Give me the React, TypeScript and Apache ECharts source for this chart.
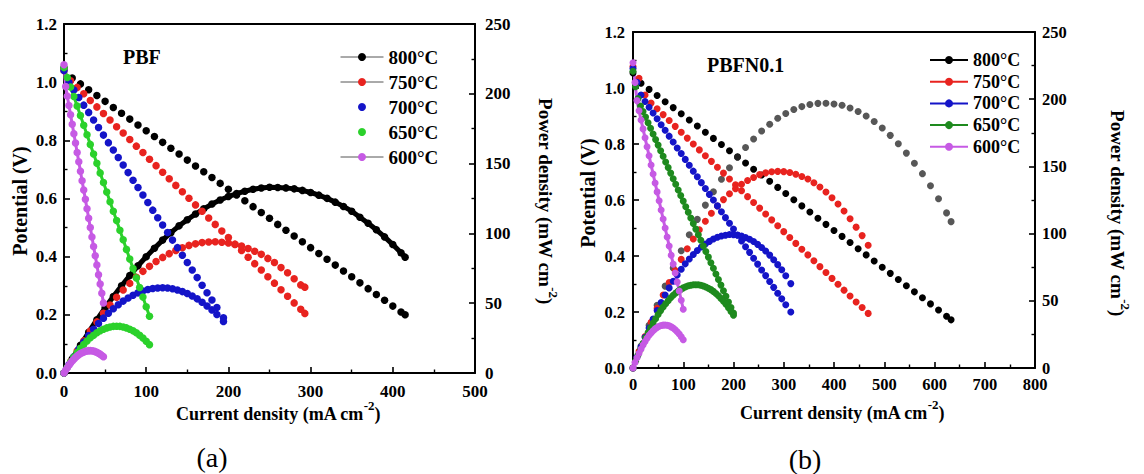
import React, { useEffect, useRef } from "react";
import * as echarts from "echarts";

// ---------- Panel (a) PBF ----------
const A800_I = [0,10,20,30,40,50,60,70,80,90,100,110,120,130,140,150,160,170,180,190,200,210,220,230,240,250,260,270,280,290,300,310,320,330,340,350,360,370,380,390,400,410,415];
const A800_V = [1.05,1.014,0.994,0.974,0.954,0.934,0.913,0.893,0.873,0.853,0.833,0.813,0.793,0.773,0.753,0.732,0.712,0.692,0.672,0.652,0.632,0.612,0.592,0.572,0.552,0.532,0.511,0.491,0.471,0.451,0.431,0.411,0.391,0.371,0.351,0.331,0.310,0.290,0.270,0.250,0.230,0.210,0.200];
const A800_P = [0,10.1,19.9,29.2,38.2,46.7,54.8,62.5,69.8,76.8,83.3,89.4,95.2,100.5,105.4,109.8,113.9,117.6,121.0,123.9,126.4,128.5,130.2,131.6,132.5,133.0,132.9,132.6,131.9,130.8,129.3,127.4,125.1,122.4,119.3,115.9,111.6,107.3,102.6,97.5,92.0,86.1,83.0];

const A750_I = [0,8,16,24,32,40,48,56,64,72,80,88,96,104,112,120,128,136,144,152,160,168,176,184,192,200,208,216,224,232,240,248,256,264,272,280,288,293];
const A750_V = [1.04,1.005,0.982,0.960,0.937,0.915,0.892,0.870,0.847,0.825,0.803,0.780,0.758,0.735,0.713,0.690,0.668,0.645,0.623,0.601,0.578,0.556,0.533,0.511,0.488,0.466,0.443,0.421,0.398,0.376,0.354,0.331,0.309,0.286,0.264,0.241,0.219,0.205];
const A750_P = [0,8.0,15.7,23.0,30.0,36.6,42.8,48.7,54.2,59.4,64.2,68.6,72.8,76.4,79.9,82.8,85.5,87.7,89.7,91.4,92.5,93.4,93.8,94.0,93.7,93.2,92.1,90.9,89.2,87.2,85.0,82.1,79.1,75.5,71.8,67.5,63.1,61.5];

const A700_I = [0,6,12,18,24,30,36,42,48,54,60,66,72,78,84,90,96,102,108,114,120,126,132,138,144,150,156,162,168,174,180,186,194];
const A700_V = [1.04,0.999,0.973,0.947,0.921,0.896,0.870,0.844,0.818,0.792,0.767,0.741,0.715,0.689,0.663,0.638,0.612,0.586,0.560,0.534,0.509,0.483,0.457,0.431,0.405,0.380,0.354,0.328,0.302,0.276,0.251,0.225,0.190];
const A700_P = [0,6.0,11.7,17.0,22.1,26.9,31.3,35.4,39.3,42.8,46.0,48.9,51.5,53.7,55.7,57.4,58.8,59.8,60.5,60.9,61.1,60.9,60.3,59.5,58.3,57.0,55.2,53.1,50.7,48.0,45.2,41.9,36.9];

const A650_I = [0,4,8,12,16,20,24,28,32,36,40,44,48,52,56,60,64,68,72,76,80,84,88,92,96,100,104];
const A650_V = [1.05,1.016,0.983,0.951,0.918,0.885,0.852,0.819,0.786,0.753,0.721,0.688,0.655,0.622,0.589,0.556,0.524,0.491,0.458,0.425,0.392,0.359,0.327,0.294,0.261,0.228,0.195];
const A650_P = [0,4.1,7.9,11.4,14.7,17.7,20.4,22.9,25.2,27.1,28.8,30.3,31.4,32.3,33.0,33.4,33.5,33.4,33.0,32.3,31.4,30.2,28.8,27.0,25.1,22.8,20.3];

const A600_I = [0,2,4,6,8,10,12,14,16,18,20,22,24,26,28,30,32,34,36,38,40,42,44,46,48];
const A600_V = [1.06,0.985,0.952,0.920,0.888,0.855,0.823,0.791,0.758,0.726,0.694,0.661,0.629,0.597,0.565,0.532,0.500,0.468,0.435,0.403,0.371,0.338,0.306,0.274,0.241];
const A600_P = [0,2.0,3.8,5.5,7.1,8.6,9.9,11.1,12.1,13.1,13.9,14.5,15.1,15.5,15.8,16.0,16.0,15.9,15.7,15.3,14.8,14.2,13.5,12.6,11.6];

// ---------- Panel (b) PBFN0.1 ----------
const B800_I = [0,16,32,48,64,80,96,112,128,144,160,176,192,208,224,240,256,272,288,304,320,336,352,368,384,400,416,432,448,464,480,496,512,528,544,560,576,592,608,624,633];
const B800_V = [1.054,1.017,0.995,0.973,0.951,0.930,0.908,0.886,0.864,0.842,0.820,0.798,0.776,0.754,0.732,0.710,0.689,0.667,0.645,0.623,0.601,0.579,0.557,0.535,0.513,0.491,0.470,0.448,0.426,0.404,0.382,0.360,0.338,0.316,0.294,0.272,0.251,0.229,0.207,0.185,0.172];
const B800_P = [0,16.3,31.8,46.7,60.9,74.4,87.2,99.2,110.6,121.2,131.2,140.4,149.0,156.8,164.0,170.4,176.4,181.4,185.8,189.4,192.3,194.5,196.1,196.9,197.0,196.4,195.5,193.5,190.8,187.5,183.4,178.6,173.1,166.8,159.9,152.3,144.6,135.6,125.9,115.4,108.9];

const B750_I = [0,12,24,36,48,60,72,84,96,108,120,132,144,156,168,180,192,204,216,228,240,252,264,276,288,300,312,324,336,348,360,372,384,396,408,420,432,444,456,468];
const B750_V = [1.077,1.035,0.975,0.946,0.926,0.905,0.884,0.863,0.842,0.821,0.800,0.779,0.758,0.738,0.717,0.696,0.675,0.654,0.633,0.612,0.591,0.571,0.550,0.529,0.508,0.487,0.466,0.445,0.424,0.404,0.383,0.362,0.341,0.320,0.299,0.278,0.257,0.236,0.216,0.195];
const B750_P = [0,12.4,23.4,34.1,44.4,54.3,63.6,72.5,80.8,88.7,96.0,102.8,109.2,115.1,120.5,125.3,129.6,133.4,136.7,139.5,141.8,143.9,145.2,146.0,146.3,146.1,145.4,144.2,142.5,140.6,137.9,134.7,130.9,126.7,122.0,116.8,111.0,104.8,98.5,91.3];

const B700_I = [0,8,16,24,32,40,48,56,64,72,80,88,96,104,112,120,128,136,144,152,160,168,176,184,192,200,208,216,224,232,240,248,256,264,272,280,288,296,304,314];
const B700_V = [1.07,1.02,0.975,0.952,0.931,0.911,0.890,0.869,0.849,0.828,0.807,0.786,0.766,0.745,0.724,0.703,0.683,0.662,0.641,0.620,0.600,0.579,0.558,0.537,0.517,0.496,0.475,0.454,0.433,0.413,0.392,0.371,0.350,0.330,0.309,0.288,0.267,0.247,0.226,0.200];
const B700_P = [0,8.2,15.6,22.8,29.8,36.4,42.7,48.7,54.3,59.6,64.6,69.2,73.5,77.5,81.1,84.4,87.4,90.0,92.3,94.2,96.0,97.3,98.2,98.8,99.3,99.2,98.8,98.1,97.0,95.8,94.1,92.0,89.6,87.1,84.0,80.6,76.9,73.1,68.7,62.8];

const B650_I = [0,5,10,15,20,25,30,35,40,45,50,55,60,65,70,75,80,85,90,95,100,105,110,115,120,125,130,135,140,145,150,155,160,165,170,175,180,185,190,195,200];
const B650_V = [1.06,1.005,0.962,0.936,0.916,0.896,0.876,0.856,0.836,0.816,0.796,0.776,0.756,0.736,0.716,0.696,0.676,0.656,0.636,0.616,0.596,0.576,0.556,0.536,0.516,0.496,0.476,0.456,0.436,0.416,0.396,0.376,0.356,0.336,0.316,0.296,0.276,0.256,0.236,0.216,0.196];
const B650_P = [0,5.0,9.6,14.0,18.3,22.4,26.3,30.0,33.4,36.7,39.8,42.7,45.4,47.8,50.1,52.2,54.1,55.8,57.2,58.5,59.6,60.5,61.2,61.6,61.9,62.0,61.9,61.6,61.0,60.3,59.4,58.3,57.0,55.4,53.7,51.8,49.7,47.4,44.8,42.1,39.2];

const B600_I = [0,4,8,12,16,20,24,28,32,36,40,44,48,52,56,60,64,68,72,76,80,84,88,92,96,100];
const B600_V = [1.09,1.02,0.955,0.919,0.886,0.854,0.822,0.790,0.758,0.725,0.693,0.661,0.629,0.597,0.564,0.532,0.500,0.468,0.436,0.403,0.371,0.339,0.307,0.275,0.242,0.210];
const B600_P = [0,4.1,7.6,11.0,14.2,17.1,19.7,22.1,24.3,26.1,27.7,29.1,30.2,31.0,31.6,31.9,32.0,31.8,31.4,30.6,29.7,28.5,27.0,25.3,23.2,21.0];

const TEMPS = ["800°C", "750°C", "700°C", "650°C", "600°C"];
const A_X_TICKS = [0, 500, 100];
const B_X_TICKS = [0, 800, 100];
const V_TICKS = [0, 1.2, 0.2];
const P_TICKS = [0, 250, 50];

const FONT = "Liberation Serif, Times New Roman, serif";
const RED = "#e8231f";
const BLUE = "#1414c8";
const GREEN_A = "#2bd12b";
const GREEN_B = "#1e8a1e";
const MAG = "#c65ae4";

type Curve = { t: string; I: number[]; V: number[]; P: number[]; color: string; pColor: string; vW: number; pW: number };

const CURVES_A: Curve[] = [
  { t: TEMPS[0], I: A800_I, V: A800_V, P: A800_P, color: "#000", pColor: "#000", vW: 0, pW: 5 },
  { t: TEMPS[1], I: A750_I, V: A750_V, P: A750_P, color: RED, pColor: RED, vW: 0, pW: 0 },
  { t: TEMPS[2], I: A700_I, V: A700_V, P: A700_P, color: BLUE, pColor: BLUE, vW: 0, pW: 0 },
  { t: TEMPS[3], I: A650_I, V: A650_V, P: A650_P, color: GREEN_A, pColor: GREEN_A, vW: 3, pW: 0 },
  { t: TEMPS[4], I: A600_I, V: A600_V, P: A600_P, color: MAG, pColor: MAG, vW: 3, pW: 0 },
];
const CURVES_B: Curve[] = [
  { t: TEMPS[0], I: B800_I, V: B800_V, P: B800_P, color: "#000", pColor: "rgba(40,40,40,0.78)", vW: 0, pW: 0 },
  { t: TEMPS[1], I: B750_I, V: B750_V, P: B750_P, color: RED, pColor: RED, vW: 0, pW: 0 },
  { t: TEMPS[2], I: B700_I, V: B700_V, P: B700_P, color: BLUE, pColor: BLUE, vW: 0, pW: 0 },
  { t: TEMPS[3], I: B650_I, V: B650_V, P: B650_P, color: GREEN_B, pColor: GREEN_B, vW: 0, pW: 0 },
  { t: TEMPS[4], I: B600_I, V: B600_V, P: B600_P, color: MAG, pColor: MAG, vW: 3, pW: 0 },
];

function series(prefix: string, curves: Curve[], xi: number, yv: number, yp: number, size: number) {
  const out: any[] = [];
  curves.forEach((c) => {
    out.push({
      type: "line", name: prefix + c.t, xAxisIndex: xi, yAxisIndex: yv,
      data: c.I.map((x, k) => [x, c.V[k]]),
      symbol: "circle", symbolSize: size, showSymbol: true, clip: false, silent: true,
      itemStyle: { color: c.color }, lineStyle: { color: c.color, width: c.vW },
      emphasis: { disabled: true },
    });
    out.push({
      type: "line", name: prefix + c.t, xAxisIndex: xi, yAxisIndex: yp,
      data: c.I.map((x, k) => [x, c.P[k]]),
      symbol: "circle", symbolSize: size, showSymbol: true, clip: false, silent: true,
      itemStyle: { color: c.pColor }, lineStyle: { color: c.pColor, width: c.pW },
      emphasis: { disabled: true },
    });
  });
  return out;
}

const LINE = { color: "#000", width: 2 };

function xAxis(grid: number, ticks: number[], pos: "bottom" | "top", fs: number, margin: number) {
  const bottom = pos === "bottom";
  return {
    type: "value", gridIndex: grid, position: pos, min: ticks[0], max: ticks[1], interval: ticks[2],
    axisLine: { show: true, onZero: false, lineStyle: LINE },
    axisTick: { show: bottom, inside: true, length: 6, lineStyle: { color: "#000", width: 1.6 } },
    minorTick: { show: bottom, splitNumber: 2, length: 3.5, lineStyle: { color: "#000", width: 1.4 } },
    axisLabel: { show: bottom, color: "#000", fontFamily: FONT, fontWeight: "bold", fontSize: fs, margin },
    splitLine: { show: false }, minorSplitLine: { show: false },
  };
}
function yAxis(grid: number, ticks: number[], pos: "left" | "right", fs: number, margin: number, dec: number) {
  return {
    type: "value", gridIndex: grid, position: pos, min: ticks[0], max: ticks[1], interval: ticks[2],
    axisLine: { show: true, onZero: false, lineStyle: LINE },
    axisTick: { show: true, inside: true, length: 6, lineStyle: { color: "#000", width: 1.6 } },
    minorTick: { show: true, splitNumber: 2, length: 3.5, lineStyle: { color: "#000", width: 1.4 } },
    axisLabel: { color: "#000", fontFamily: FONT, fontWeight: "bold", fontSize: fs, margin, formatter: (v: number) => v.toFixed(dec) },
    splitLine: { show: false }, minorSplitLine: { show: false },
  };
}

function richTitle(main: string, unit: string, x: number, y: number, rot: number, fs: number) {
  return {
    type: "text", x, y, rotation: rot, silent: true,
    style: {
      text: `{n|${main} (${unit} cm}{s|-2}{n|)}`,
      textAlign: "center", textVerticalAlign: "middle",
      rich: {
        n: { fontFamily: FONT, fontWeight: "bold", fontSize: fs, fill: "#000", lineHeight: 24, verticalAlign: "bottom" },
        s: { fontFamily: FONT, fontWeight: "bold", fontSize: Math.round(fs * 0.7), fill: "#000", lineHeight: 12, verticalAlign: "top" },
      },
    },
  };
}
function plainText(text: string, x: number, y: number, rot: number, fs: number, bold: boolean, align = "center") {
  return {
    type: "text", x, y, rotation: rot, silent: true,
    style: { text, fontFamily: FONT, fontWeight: bold ? "bold" : "normal", fontSize: fs, fill: "#000", textAlign: align, textVerticalAlign: "middle" },
  };
}

function legend(prefix: string, curves: Curve[], left: number, top: number, w: number, fs: number, lh: number, gap: number, lineFor: (c: Curve, i: number) => any) {
  return {
    show: true, orient: "vertical", left, top, itemWidth: w, itemHeight: 10, itemGap: gap,
    selectedMode: false, padding: 0,
    formatter: (n: string) => n.slice(prefix.length),
    textStyle: { color: "#000", fontFamily: FONT, fontWeight: "bold", fontSize: fs, lineHeight: lh },
    data: curves.map((c, i) => ({ name: prefix + c.t, itemStyle: { color: c.color }, lineStyle: lineFor(c, i) })),
  };
}

const option: any = {
  animation: false,
  backgroundColor: "#fff",
  grid: [
    { left: 64, top: 24, width: 411, height: 349, outerBoundsMode: "none", containLabel: false },
    { left: 633, top: 32, width: 402, height: 336, outerBoundsMode: "none", containLabel: false },
  ],
  xAxis: [
    xAxis(0, A_X_TICKS, "bottom", 17, 10),
    xAxis(0, A_X_TICKS, "top", 17, 8),
    xAxis(1, B_X_TICKS, "bottom", 16.5, 8),
    xAxis(1, B_X_TICKS, "top", 16.5, 8),
  ],
  yAxis: [
    yAxis(0, V_TICKS, "left", 17, 7, 1),
    yAxis(0, P_TICKS, "right", 17, 10, 0),
    yAxis(1, V_TICKS, "left", 16.5, 8, 1),
    yAxis(1, P_TICKS, "right", 16.5, 7, 0),
  ],
  legend: [
    legend("a", CURVES_A, 340, 47, 43, 19, 20, 5, (c, i) => (i === 2 || i === 3 ? { width: 0, opacity: 0 } : { color: "#555", width: 1, opacity: 1 })),
    legend("b", CURVES_B, 929, 51, 38, 18, 18, 3.7, (c) => ({ color: c.color, width: 2, opacity: 1 })),
  ],
  series: [...series("a", CURVES_A, 0, 0, 1, 7.5), ...series("b", CURVES_B, 2, 2, 3, 7)],
  graphic: [
    plainText("PBF", 123, 57, 0, 20, true, "left"),
    plainText("PBFN0.1", 707, 65, 0, 20, true, "left"),
    plainText("Potential (V)", 20, 201, Math.PI / 2, 20, true),
    plainText("Potential (V)", 588, 193, Math.PI / 2, 20, true),
    richTitle("Power density", "mW", 548, 201, -Math.PI / 2, 19),
    richTitle("Power density", "mW", 1120, 213, -Math.PI / 2, 19),
    richTitle("Current density", "mA", 278, 411, 0, 18),
    richTitle("Current density", "mA", 842, 410, 0, 18),
    plainText("(a)", 212, 457, 0, 28, false),
    plainText("(b)", 805, 459, 0, 28, false),
  ],
};

export default function App() {
  const ref = useRef<HTMLDivElement>(null);
  useEffect(() => {
    document.body.style.margin = "0";
    const chart = echarts.init(ref.current as HTMLDivElement, null, { renderer: "svg" });
    chart.setOption(option);
    return () => chart.dispose();
  }, []);
  return <div ref={ref} style={{ width: 1144, height: 474, background: "#fff" }} />;
}
